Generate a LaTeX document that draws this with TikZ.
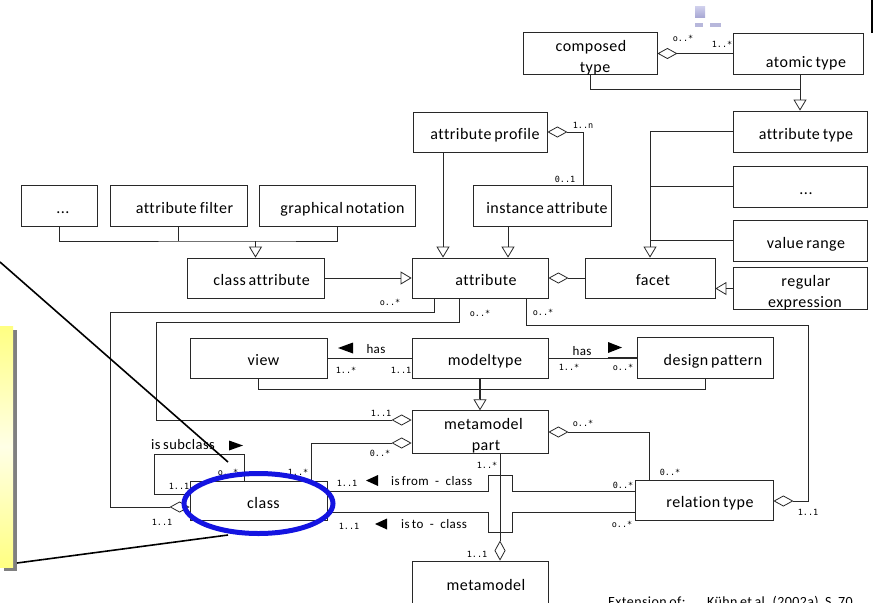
\documentclass[tikz,border=0pt]{standalone}
\usepackage{fontspec}
\setmainfont{Carlito}
\newfontfamily\boxfont[LetterSpace=3,WordSpace=0.7,Ligatures=NoCommon]{Carlito}
\newfontfamily\multfont{DejaVu Sans Mono}
\usetikzlibrary{arrows.meta,shapes.geometric}

\definecolor{linegray}{RGB}{40,40,40}
\definecolor{ringblue}{RGB}{20,20,225}
\definecolor{notegray}{RGB}{128,128,128}
\definecolor{noteyellow}{RGB}{255,255,130}
\definecolor{iconlight}{RGB}{205,205,235}
\definecolor{icondark}{RGB}{165,165,210}

\newcommand\tallstrut{\rule{0pt}{19pt}}

\tikzset{
  box/.style={draw=linegray, line width=0.8pt, fill=white, inner sep=0pt, align=center,
              font=\boxfont\fontsize{16}{18}\selectfont},
  box1/.style={box, text height=17pt, text depth=2pt},
  conn/.style={draw=linegray, line width=0.8pt},
  gen/.style={conn, -{Triangle[open,length=11pt,width=13pt]}},
  aggs/.style={conn, {Diamond[open,length=20pt,width=11pt]}-},
  agge/.style={conn, -{Diamond[open,length=20pt,width=11pt]}},
  mult/.style={font=\multfont\fontsize{8.5}{10}\selectfont, inner sep=0pt},
  rolelbl/.style={font=\boxfont\fontsize{13}{15}\selectfont, inner sep=0pt},
  callout/.style={line width=1.6pt, draw=black},
}

\begin{document}
\begin{tikzpicture}[x=1pt,y=-1pt]
\useasboundingbox (0,0) rectangle (874,602);
\clip (0,0) rectangle (874,602);

% ---------- classes ----------
\node[box, minimum width=134pt, minimum height=41pt] (composed) at (590,53.5)
  {\tallstrut\hspace*{2pt}composed\\[3pt]\hspace*{10pt}type};
\node[box1, minimum width=130pt, minimum height=41pt] (atomic) at (798,53.5) {\hspace*{16pt}\raisebox{-6pt}{atomic type}};
\node[box1, minimum width=134pt, minimum height=40pt] (attrprofile) at (480,132) {\hspace*{10pt}attribute profile};
\node[box1, minimum width=138pt, minimum height=41pt] (instattr) at (542,205.5) {\hspace*{10pt}instance attribute};
\node[box1, minimum width=134pt, minimum height=41pt] (attrtype) at (800,131.5) {\hspace*{12pt}attribute type};
\node[box1, minimum width=134pt, minimum height=41pt] (moretypes) at (800,186.5) {\hspace*{12pt}...};
\node[box1, minimum width=134pt, minimum height=41pt] (valuerange) at (800,240.5) {\hspace*{12pt}value range};
\node[box, minimum width=134pt, minimum height=41pt] (regexp) at (800,288.5)
  {\tallstrut\hspace*{12pt}regular\\[3pt]\hspace*{10pt}expression};
\node[box1, minimum width=130pt, minimum height=40pt] (facet) at (650,278) {\hspace*{6pt}facet};
\node[box1, minimum width=136pt, minimum height=40pt] (attribute) at (480,278) {\hspace*{12pt}attribute};
\node[box1, minimum width=137pt, minimum height=40pt] (classattr) at (255.5,278) {\hspace*{12pt}class attribute};
\node[box1, minimum width=76pt, minimum height=41pt] (moreparts) at (59,205.5) {\hspace*{8pt}...};
\node[box1, minimum width=137pt, minimum height=41pt] (attrfilter) at (178.5,205.5) {\hspace*{12pt}attribute filter};
\node[box1, minimum width=156pt, minimum height=41pt] (graphnot) at (337,205.5) {\hspace*{11pt}graphical notation};
\node[box1, minimum width=137pt, minimum height=40pt] (view) at (258.5,358) {\hspace*{10pt}view};
\node[box1, minimum width=136pt, minimum height=40pt] (modeltype) at (480,358) {\hspace*{10pt}modeltype};
\node[box1, minimum width=136pt, minimum height=41pt] (designpattern) at (705,358) {\hspace*{16pt}design pattern};
\node[box, minimum width=136pt, minimum height=40pt] (mmpart) at (480,432)
  {\tallstrut\hspace*{7pt}metamodel\\[3pt]\hspace*{12pt}part};
\node[box1, minimum width=138pt, minimum height=40pt] (relationtype) at (704,500) {\hspace*{12pt}relation type};
\node[box1, minimum width=137pt, minimum height=39pt] (class) at (258.5,500.5) {\hspace*{10pt}class};
\node[box1, minimum width=136pt, minimum height=44pt] (metamodel) at (480,583) {\hspace*{12pt}metamodel};

% ---------- type hierarchy ----------
\draw[aggs] (composed.east) -- (atomic.west);
\coordinate (j1) at (800,89);
\draw[conn] (composed.south) |- (j1);
\draw[gen] (atomic.south -| attrtype.north) -- (attrtype.north);

% ---------- attribute part ----------
\draw[aggs] (attrprofile.east) -| ([xshift=41pt]instattr.north);
\draw[gen] ([xshift=-37pt]attrprofile.south) -- ([xshift=-37pt]attribute.north);
\draw[gen] ([xshift=-34pt]instattr.south) -- ([xshift=-34pt]instattr.south |- attribute.north);

\coordinate (j2) at (255.5,241);
\draw[conn] (moreparts.south) |- (j2) -| (graphnot.south);
\draw[conn] (attrfilter.south) -- (attrfilter.south |- j2);
\draw[gen] (j2) -- (classattr.north);
\draw[gen] (classattr.east) -- (attribute.west);

% ---------- facets ----------
\draw[gen] (attrtype.west) -| (facet.north);
\draw[conn] (moretypes.west) -- (moretypes.west -| facet.north);
\draw[conn] (valuerange.west) -- (valuerange.west -| facet.north);
\draw[gen] (regexp.west) -- (regexp.west -| facet.east);
\draw[aggs] (attribute.east) -- (facet.west);

% ---------- attribute ownership ----------
\coordinate (c1) at (110,312);
\draw[agge] ([xshift=-46pt]attribute.south) |- (c1) |- ([yshift=-6.5pt]class.west);
\coordinate (c2) at (156,322);
\draw[agge] ([xshift=-21pt]attribute.south) |- (c2) |- ([yshift=12pt]mmpart.west);
\coordinate (c3) at (808,325);
\draw[agge] ([xshift=46pt]attribute.south) |- (c3) |- ([yshift=-1pt]relationtype.east);

% ---------- model types ----------
\draw[conn] (view.east) -- (modeltype.west);
\draw[conn] (modeltype.east) -- (designpattern.west);
\draw[conn, line width=1.5pt] ([xshift=-29pt]designpattern.west) -- (designpattern.west);
\coordinate (c4) at (705,389);
\draw[conn] (view.south) |- (c4) -- (designpattern.south);
\draw[gen] (modeltype.south) -- (mmpart.north);
\draw[conn, line width=1.6pt] (modeltype.south) -- ([yshift=11pt]mmpart.north);

% ---------- metamodel parts ----------
\draw[aggs] ([yshift=-11pt]mmpart.west) -| ([xshift=52.5pt]class.north);
\draw[aggs] (mmpart.east) -| ([xshift=-55pt]relationtype.north);
\draw[agge] ([xshift=20pt]mmpart.south) -- ([xshift=20pt]metamodel.north);

% ---------- relation ends (with hops over the vertical line) ----------
\draw[conn] ([yshift=9.5pt]class.east) -- ++(161,0) -- ++(0,-16) -- ++(24,0) -- ++(0,16)
  -- ([yshift=9pt]relationtype.west);
\draw[conn] ([yshift=-11.5pt]class.east) -- ++(161,0) -- ++(0,20) -- ++(24,0) -- ++(0,-20)
  -- ([yshift=-12pt]relationtype.west);

% ---------- subclass self relation ----------
\coordinate (c5) at (154,454);
\draw[conn] ([xshift=-14.5pt]class.north) |- (c5) |- ([yshift=6.5pt]class.west);

% ---------- reading direction marks ----------
\fill (338,348) -- (353,342.5) -- (353,353.5) -- cycle;
\fill (622,347.5) -- (608,342) -- (608,353) -- cycle;
\fill (366,480.5) -- (378,475) -- (378,486) -- cycle;
\fill (375,524) -- (387,518.5) -- (387,529.5) -- cycle;
\fill (243,445.5) -- (229,440.5) -- (229,450.5) -- cycle;

% ---------- role names ----------
\node[rolelbl] (has1) at (376,349) {has};
\node[rolelbl] (has2) at (582,351) {has};
\node[rolelbl, anchor=west] (isfrom) at (391,481) {is from\enspace-\enspace class};
\node[rolelbl, anchor=west] (isto) at (401,524) {is to\enspace-\enspace class};
\node[rolelbl, anchor=west, font=\boxfont\fontsize{14.5}{16}\selectfont] (issub) at (151,445) {is subclass};

% ---------- multiplicities ----------
\node[mult] (m1) at (683,38) {o..*};
\node[mult] (m2) at (722,44) {1..*};
\node[mult] (m3) at (583,125) {1..n};
\node[mult] (m4) at (565,179) {0..1};
\node[mult] (m5) at (390,302) {o..*};
\node[mult] (m6) at (480,313) {o..*};
\node[mult] (m7) at (543,312) {o..*};
\node[mult] (m8) at (346,370) {1..*};
\node[mult] (m9) at (401,370) {1..1};
\node[mult] (m10) at (569,367) {1..*};
\node[mult] (m11) at (623,367) {o..*};
\node[mult] (m12) at (381,413) {1..1};
\node[mult] (m13) at (380,453) {0..*};
\node[mult] (m14) at (583,423) {o..*};
\node[mult] (m15) at (487,465) {1..*};
\node[mult] (m16) at (670,472) {0..*};
\node[mult] (m17) at (623,485) {0..*};
\node[mult] (m18) at (622,524) {o..*};
\node[mult] (m19) at (808,512) {1..1};
\node[mult] (m20) at (477,554) {1..1};
\node[mult] (m21) at (347,483) {1..1};
\node[mult] (m22) at (349,526) {1..1};
\node[mult] (m23) at (179,486) {1..1};
\node[mult] (m24) at (228,472) {o..*};
\node[mult] (m25) at (298,472) {1..*};
\node[mult] (m26) at (162,522) {1..1};

% ---------- source line ----------
\node[font=\boxfont\fontsize{14}{16}\selectfont, inner sep=0pt, anchor=base west] (src1) at (608,606.5) {Extension of:};
\node[font=\boxfont\fontsize{14}{16}\selectfont, inner sep=0pt, anchor=base west] (src2) at (707,606.5) {Kühn et al. (2002a), S. 70};

% ---------- note box and its pointers ----------
\fill[notegray] (4,330) rectangle (17,571);
\shade[top color=noteyellow, bottom color=noteyellow, middle color=noteyellow!20] (-5,326) rectangle (13,567);
\coordinate (p1) at (0,262);
\coordinate (p2) at (228,462);
\coordinate (p3) at (17,563);
\coordinate (p4) at (228,535);
\draw[callout] (p1) -- (p2);
\draw[callout] (p3) -- (p4);

% ---------- highlight ring ----------
\node[ellipse, draw=ringblue, line width=5pt, inner sep=0pt, minimum width=149pt, minimum height=60pt] (ring) at (258.5,503.5) {};

% ---------- window corner marks ----------
\shade[top color=iconlight, bottom color=icondark] (695,7) rectangle (705,18);
\fill[icondark!80] (695,23) rectangle (703,27);
\fill[icondark!80] (710,23) rectangle (721,27);
\draw[line width=2pt] (872,0) -- (872,33);
\end{tikzpicture}
\end{document}
